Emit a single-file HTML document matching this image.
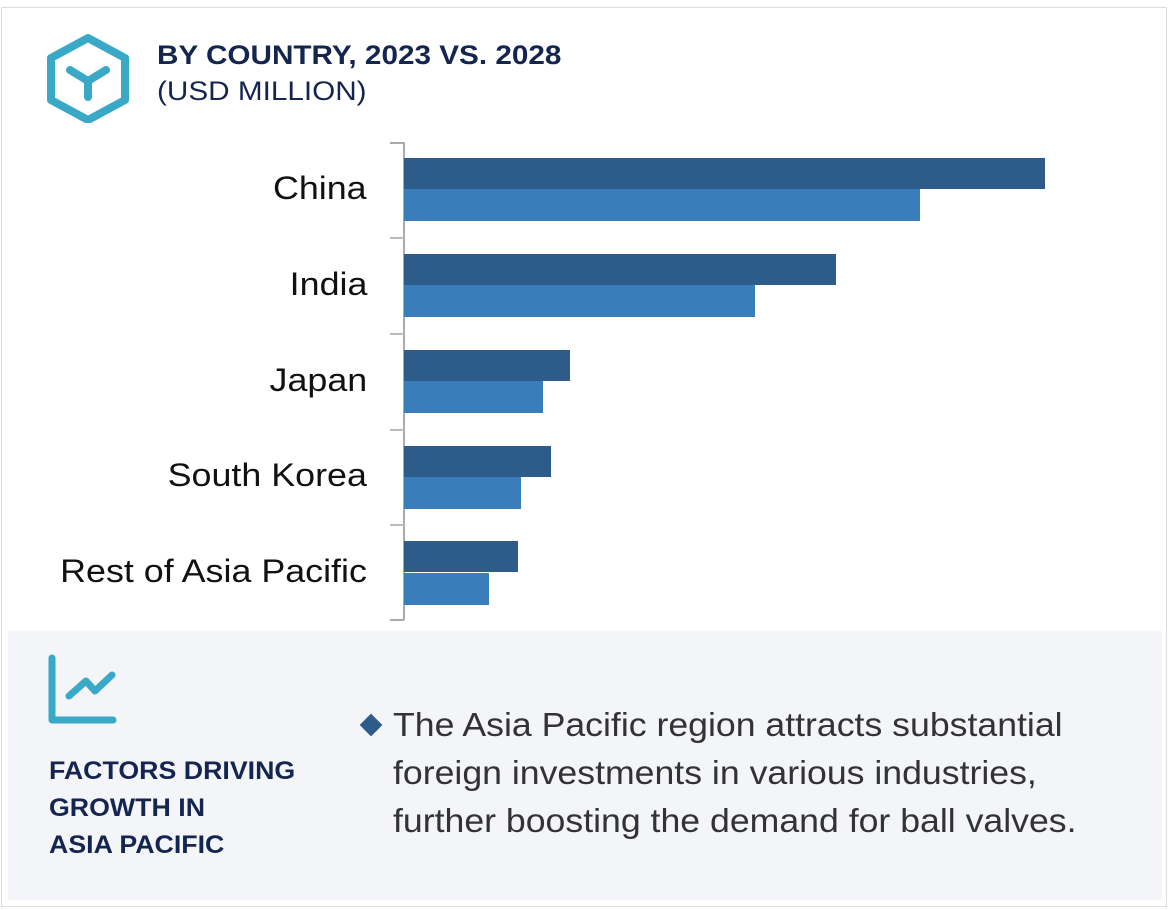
<!DOCTYPE html>
<html><head><style>
body{margin:0;width:1170px;height:910px;background:#fff;font-family:"Liberation Sans",Arial,sans-serif;position:relative;overflow:hidden}
.abs{position:absolute}
.lbl{position:absolute;right:803px;font-size:32px;color:#111;white-space:nowrap;transform:scaleX(1.12);transform-origin:right center}
.d{position:absolute;left:404px;height:31px;background:#2d5b8a}
.l{position:absolute;left:404px;height:32px;background:#3a7dbb}
.sx{transform:scaleX(1.1);transform-origin:left top;white-space:nowrap}
</style></head><body>
<div class="abs" style="left:1px;top:7px;width:1166px;height:900px;border:1px solid #ddd;box-sizing:border-box"></div>
<svg class="abs" style="left:46px;top:33px" width="84" height="90" viewBox="0 0 84 90">
<polygon points="42,5 79,25 79,67 42,87 5,67 5,25" fill="none" stroke="#3aa9c8" stroke-width="8" stroke-linejoin="round"/>
<path d="M24,37 L42,48 L60,37 M42,48 L42,64" fill="none" stroke="#3aa9c8" stroke-width="8" stroke-linecap="round" stroke-linejoin="round"/>
</svg>
<div class="abs sx" style="left:157px;top:40px;font-size:27px;font-weight:bold;color:#14254f">BY COUNTRY, 2023 VS. 2028</div>
<div class="abs sx" style="left:157px;top:76px;font-size:27px;color:#14254f">(USD MILLION)</div>
<div class="abs" style="left:403px;top:142px;width:2px;height:478px;background:#aaa"></div>
<div class="abs" style="left:390px;top:142px;width:14px;height:2px;background:#aaa"></div>
<div class="abs" style="left:390px;top:237px;width:14px;height:2px;background:#bbb"></div>
<div class="abs" style="left:390px;top:333px;width:14px;height:2px;background:#bbb"></div>
<div class="abs" style="left:390px;top:429px;width:14px;height:2px;background:#bbb"></div>
<div class="abs" style="left:390px;top:524px;width:14px;height:2px;background:#bbb"></div>
<div class="abs" style="left:390px;top:619px;width:14px;height:2px;background:#aaa"></div>
<div class="lbl" style="top:170px">China</div>
<div class="lbl" style="top:266px">India</div>
<div class="lbl" style="top:362px">Japan</div>
<div class="lbl" style="top:457px">South Korea</div>
<div class="lbl" style="top:553px">Rest of Asia Pacific</div>
<div class="d" style="top:158px;width:641px"></div><div class="l" style="top:189px;width:516px"></div>
<div class="d" style="top:254px;width:432px"></div><div class="l" style="top:285px;width:351px"></div>
<div class="d" style="top:350px;width:166px"></div><div class="l" style="top:381px;width:139px"></div>
<div class="d" style="top:446px;width:147px"></div><div class="l" style="top:477px;width:117px"></div>
<div class="d" style="top:541px;width:114px"></div><div class="l" style="top:573px;width:85px"></div>
<div class="abs" style="left:8px;top:631px;width:1154px;height:269px;background:#f3f5f9"></div>
<svg class="abs" style="left:46px;top:654px" width="74" height="72">
<path d="M6,4 L6,66 L67,66" fill="none" stroke="#3aa9c8" stroke-width="7" stroke-linecap="round" stroke-linejoin="round"/>
<path d="M23,42 L40,27 L49,37 L66,21" fill="none" stroke="#3aa9c8" stroke-width="7" stroke-linecap="round" stroke-linejoin="round"/>
</svg>
<div class="abs" style="left:49px;top:753px;font-size:25px;font-weight:bold;color:#14254f;line-height:37px;transform:scaleX(1.07);transform-origin:left top;white-space:nowrap">FACTORS DRIVING<br>GROWTH IN<br>ASIA PACIFIC</div>
<div class="abs" style="left:360px;top:714px;width:22px;height:22px"><div style="width:16px;height:16px;background:#2d5b8a;transform:rotate(45deg);margin:3px"></div></div>
<div class="abs" style="left:393px;top:701px;font-size:33px;color:#333;line-height:48px;transform:scaleX(1.08);transform-origin:left top;white-space:nowrap">The Asia Pacific region attracts substantial<br>foreign investments in various industries,<br>further boosting the demand for ball valves.</div>
</body></html>
